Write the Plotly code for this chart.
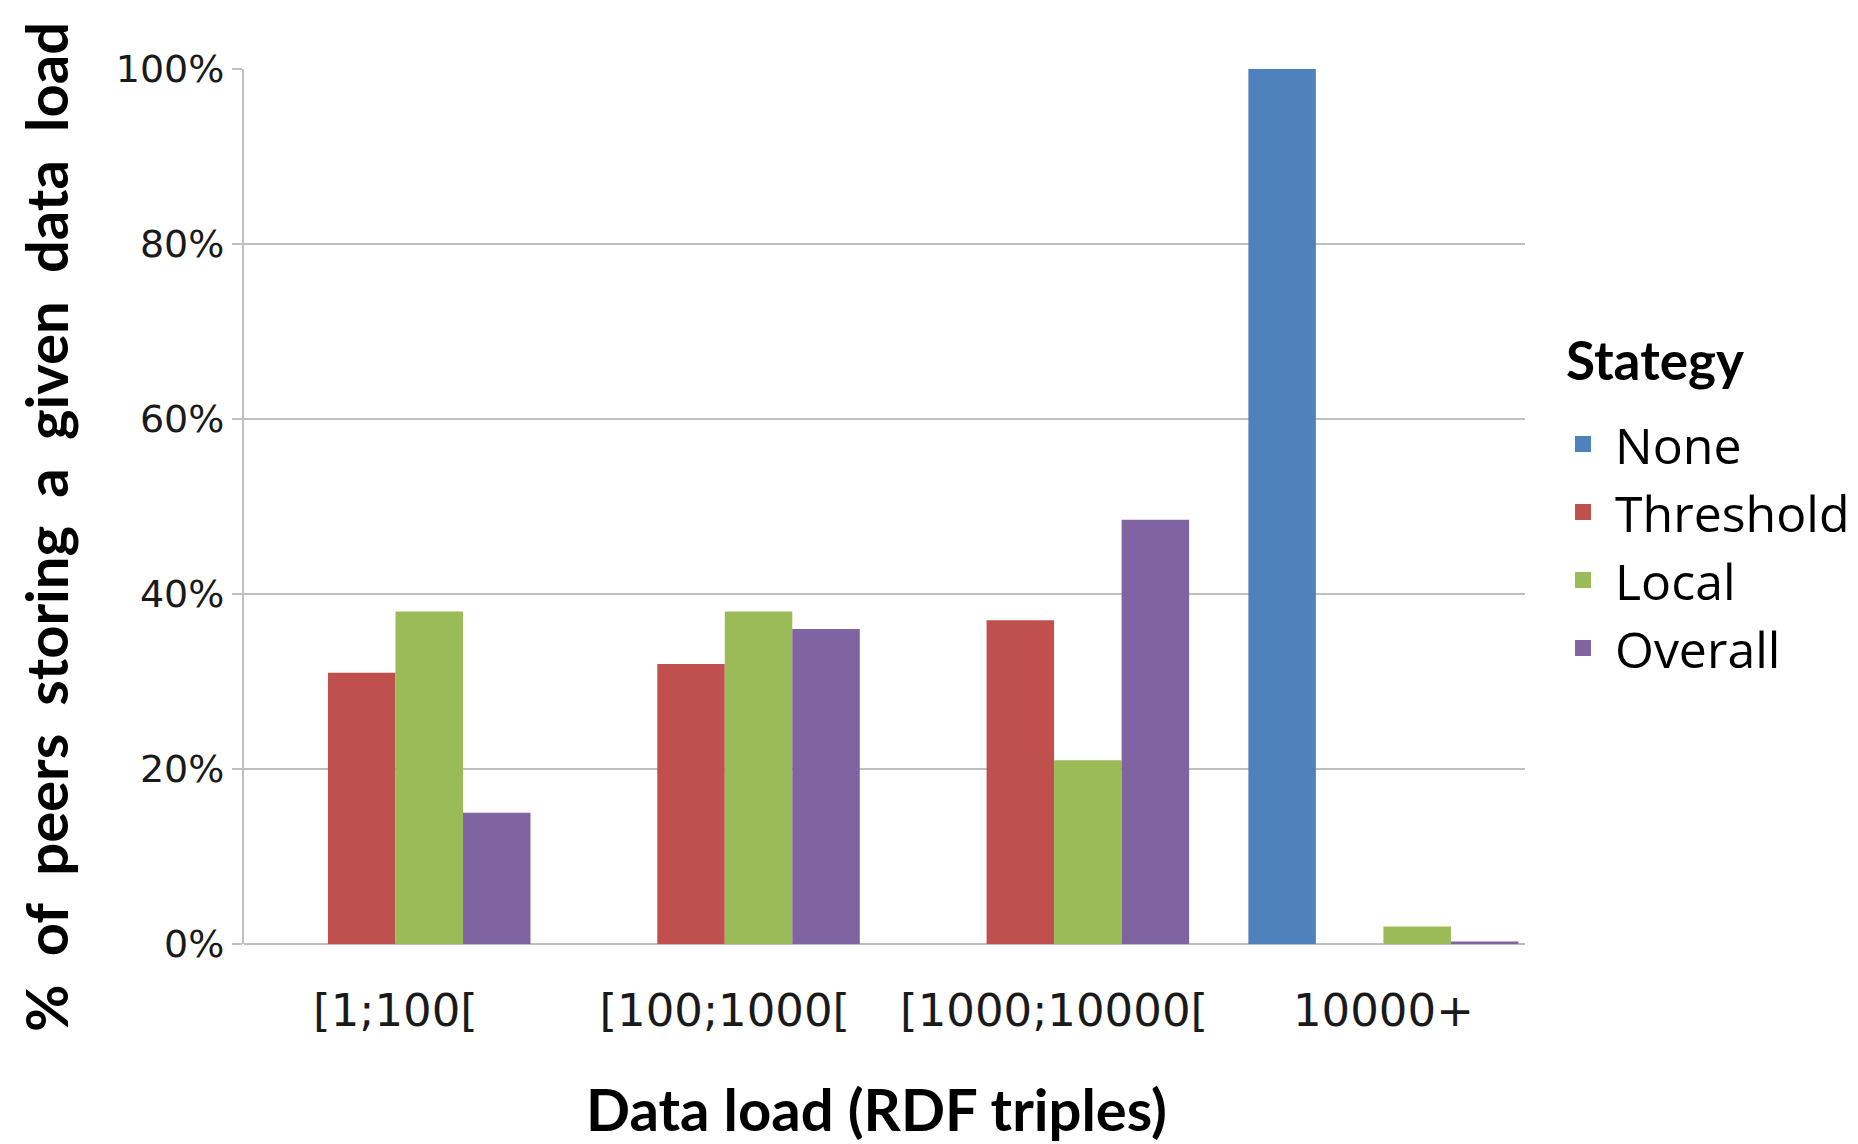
import plotly.graph_objects as go

# Data-load buckets (RDF triples) and share of peers per strategy (%)
categories = ["[1;100[", "[100;1000[", "[1000;10000[", "10000+"]
none_pct = [0, 0, 0, 100]
threshold_pct = [31, 32, 37, 0]
local_pct = [38, 38, 21, 2]
overall_pct = [15, 36, 48.5, 0.3]

series = [
    ("None", none_pct, "#4F81BD"),
    ("Threshold", threshold_pct, "#C0504D"),
    ("Local", local_pct, "#9BBB59"),
    ("Overall", overall_pct, "#8064A2"),
]

fig = go.Figure()
for name, vals, color in series:
    fig.add_trace(go.Bar(
        name=name, x=categories, y=vals, legendgroup=name, showlegend=False,
        marker=dict(color=color, line=dict(width=0)),
    ))
# Legend entries drawn as square swatches
for name, vals, color in series:
    fig.add_trace(go.Scatter(
        name=name, x=[None], y=[None], mode="markers", legendgroup=name,
        marker=dict(symbol="square", size=16, color=color),
    ))

fig.update_layout(
    width=1858, height=1144,
    margin=dict(l=244, r=333, t=69, b=200, autoexpand=False),
    paper_bgcolor="white", plot_bgcolor="white",
    barmode="group", bargap=0.18, bargroupgap=0,
    font=dict(family="DejaVu Sans", color="#1a1a1a"),
    legend=dict(
        x=(1551 - 244) / 1281, xanchor="left", y=(944 - 405) / 875, yanchor="top",
        font=dict(family="Open Sans", size=50, color="black"),
        itemsizing="trace", tracegroupgap=0, itemwidth=54,
    ),
    xaxis=dict(
        range=[-0.46, 3.43], showgrid=False, showline=False, ticks="",
        ticklabelstandoff=36,
        tickfont=dict(family="DejaVu Sans", size=45, color="#1a1a1a"),
    ),
    yaxis=dict(
        range=[0, 100], dtick=20, ticksuffix="%",
        showgrid=True, gridcolor="#BFBFBF", gridwidth=2,
        zeroline=True, zerolinecolor="#BFBFBF", zerolinewidth=2,
        showline=True, linecolor="#BFBFBF", linewidth=2,
        ticks="outside", ticklen=10, tickcolor="#BFBFBF", tickwidth=2,
        tickfont=dict(family="DejaVu Sans", size=38, color="#1a1a1a"),
    ),
    annotations=[
        dict(
            text="<b>Stategy</b>", xref="paper", yref="paper",
            x=(1564 - 244) / 1281, y=(944 - 359) / 875, xanchor="left", yanchor="middle",
            showarrow=False, font=dict(family="Lato", size=53, color="black"),
        ),
        dict(
            text="<b>Data load (RDF triples)</b>", xref="paper", yref="paper",
            x=(876 - 244) / 1281, y=-(1108 - 944) / 875, xanchor="center", yanchor="middle",
            showarrow=False, font=dict(family="Lato", size=58, color="black"),
        ),
        dict(
            text="<b>%  of  peers  storing  a  given  data  load</b>", xref="paper", yref="paper",
            x=-(244 - 45) / 1281, y=(944 - 527) / 875, xanchor="center", yanchor="middle",
            textangle=-90, showarrow=False,
            font=dict(family="Lato", size=58, color="black"),
        ),
    ],
)

fig.write_html("out.html")
